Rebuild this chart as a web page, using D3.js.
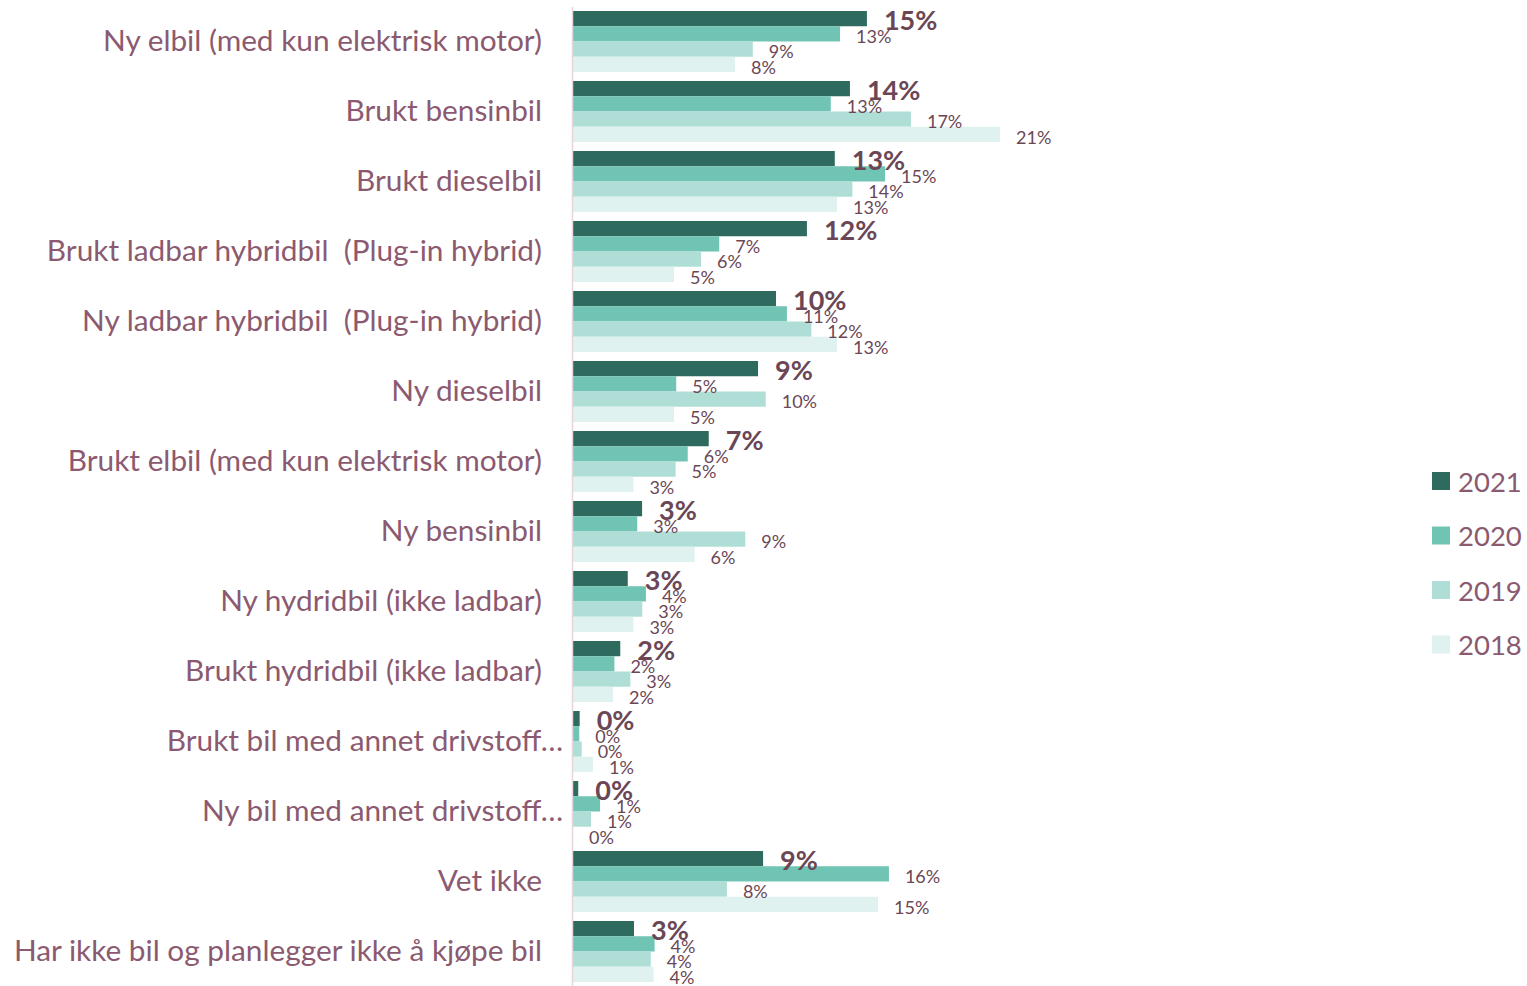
<!DOCTYPE html>
<html>
<head>
<meta charset="utf-8">
<script src="https://cdn.jsdelivr.net/npm/d3@7"></script>
<style>
  body { margin: 0; background: #fff; }
  svg { display: block; }
  text { white-space: pre; }
</style>
</head>
<body>
<svg id="chart" width="1527" height="986"></svg>
<script>
// kategorier og verdier (prosent) lest av bildet
var categories = [
    "Ny elbil (med kun elektrisk motor)",
    "Brukt bensinbil",
    "Brukt dieselbil",
    "Brukt ladbar hybridbil  (Plug-in hybrid)",
    "Ny ladbar hybridbil  (Plug-in hybrid)",
    "Ny dieselbil",
    "Brukt elbil (med kun elektrisk motor)",
    "Ny bensinbil",
    "Ny hydridbil (ikke ladbar)",
    "Brukt hydridbil (ikke ladbar)",
    "Brukt bil med annet drivstoff…",
    "Ny bil med annet drivstoff…",
    "Vet ikke",
    "Har ikke bil og planlegger ikke å kjøpe bil"
];
var years = ["2021", "2020", "2019", "2018"];
var v2021 = [14.55, 13.71, 12.96, 11.58, 10.05, 9.16, 6.72, 3.42, 2.71, 2.34, 0.33, 0.26, 9.41, 3.02];
var v2020 = [13.22, 12.76, 15.45, 7.24, 10.59, 5.11, 5.68, 3.18, 3.61, 2.05, 0.31, 1.34, 15.64, 4.04];
var v2019 = [8.9, 16.73, 13.83, 6.34, 11.8, 9.54, 5.08, 8.53, 3.43, 2.84, 0.43, 0.89, 7.62, 3.85];
var v2018 = [8.02, 21.14, 13.07, 5.0, 13.07, 5.0, 2.99, 6.02, 2.99, 1.98, 0.99, 0, 15.1, 3.99];
var series = [v2021, v2020, v2019, v2018];
var colors = ["#2e6b5e", "#70c4b3", "#afded6", "#e0f2ef"];

var svg = d3.select("#chart");
var width = 1527, height = 986;
svg.append("rect").attr("width", width).attr("height", height).attr("fill", "#fff");

var x = d3.scaleLinear().domain([0, 25]).range([573, 573 + 25 * 20.2]);
var y = d3.scaleBand().domain(categories).range([6.5, 986.5])
    .paddingInner(9 / 70).paddingOuter(4.5 / 70);
var y1 = d3.scaleBand().domain(years).range([0, y.bandwidth()]);
var color = d3.scaleOrdinal().domain(years).range(colors);

var rows = categories.map(function(c, i){
    return { cat: c, vals: years.map(function(yr, j){ return { year: yr, v: series[j][i] }; }) };
});

var groups = svg.selectAll(".grp")
    .data(rows)
    .enter().append("g")
    .attr("class", "grp")
    .attr("transform", function(d){ return "translate(0," + y(d.cat) + ")"; });

groups.selectAll("rect")
    .data(function(d){ return d.vals; })
    .enter().append("rect")
    .attr("x", x(0))
    .attr("y", function(d){ return y1(d.year); })
    .attr("width", function(d){ return x(d.v) - x(0); })
    .attr("height", y1.bandwidth())
    .attr("fill", function(d){ return color(d.year); });

groups.selectAll("text")
    .data(function(d){ return d.vals; })
    .enter().append("text")
    .attr("x", function(d){ return x(d.v) + (d.year === "2021" ? 17 : 16); })
    .attr("y", function(d){ return y1(d.year) + y1.bandwidth() + (d.year === "2021" ? 4 : 1.5); })
    .attr("fill", "#6b4755")
    .style("font-family", "Lato, 'Open Sans', sans-serif")
    .style("font-size", function(d){ return d.year === "2021" ? "27px" : "18px"; })
    .style("font-weight", function(d){ return d.year === "2021" ? "bold" : "normal"; })
    .text(function(d){ return Math.round(d.v) + "%"; });

// kategori-akse
var axis = svg.append("g")
    .attr("transform", "translate(572,0)")
    .call(d3.axisLeft(y).tickSize(0).tickPadding(30));
axis.select(".domain").attr("stroke", "#e6d6dc").attr("stroke-width", 1.5);
axis.selectAll(".tick text")
    .attr("fill", "#8b5a70")
    .style("font-family", "Lato, 'Open Sans', sans-serif")
    .style("font-size", "29.8px")
    .attr("x", function(d){ return d.slice(-1) === "…" ? -9 : -30; });

// legende
var legend = svg.selectAll(".legend")
    .data(years)
    .enter().append("g")
    .attr("class", "legend")
    .attr("transform", function(d, i){ return "translate(1432," + (481 + i * 54.5) + ")"; });
legend.append("rect")
    .attr("x", 0).attr("y", -9)
    .attr("width", 18).attr("height", 18)
    .attr("fill", function(d){ return color(d); });
legend.append("text")
    .attr("x", 26).attr("y", 0)
    .attr("dominant-baseline", "central")
    .attr("fill", "#8b5a70")
    .style("font-family", "Lato, 'Open Sans', sans-serif")
    .style("font-size", "27.5px")
    .text(function(d){ return d; });
</script>
</body>
</html>
